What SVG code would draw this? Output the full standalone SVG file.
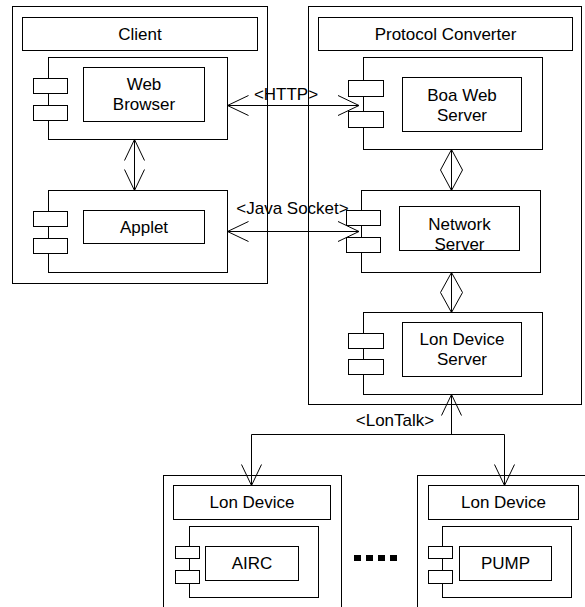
<svg xmlns="http://www.w3.org/2000/svg" width="585" height="607" viewBox="0 0 585 607">
<defs>
<style>
rect{fill:#fff;stroke:#000;stroke-width:1}
.ln{fill:none;stroke:#000;stroke-width:1}
text{font-family:"Liberation Sans",Arial,sans-serif;font-size:17px;fill:#000;text-anchor:middle}
.dot{fill:#000;stroke:none}
</style>
<marker id="open" markerUnits="userSpaceOnUse" markerWidth="26" markerHeight="26" viewBox="-23 -13 26 26" refX="0" refY="0" orient="auto-start-reverse">
<path d="M-21,-10 L0,0 L-21,10" fill="none" stroke="#000" stroke-width="1"/>
</marker>
</defs>
<rect x="0" y="0" width="585" height="607" style="stroke:none"/>

<g id="client">
<rect x="12.5" y="6.5" width="255" height="277"/>
<rect x="22.5" y="17.5" width="235" height="33"/>
<text x="140" y="39.5">Client</text>
</g>
<g id="web-browser">
<rect x="48.5" y="57.5" width="179" height="82"/>
<rect x="33.5" y="78.5" width="34" height="15"/>
<rect x="33.5" y="105.5" width="34" height="15"/>
<rect x="83.5" y="67.5" width="121" height="54"/>
<text x="144" y="90">Web</text>
<text x="144" y="110">Browser</text>
</g>
<g id="applet">
<rect x="48.5" y="190.5" width="179" height="82"/>
<rect x="33.5" y="211.5" width="34" height="15"/>
<rect x="33.5" y="238.5" width="34" height="15"/>
<rect x="83.5" y="210.5" width="121" height="33"/>
<text x="144" y="232.5">Applet</text>
</g>

<g id="protocol-converter">
<rect x="308.5" y="6.5" width="273" height="398"/>
<rect x="318.5" y="17.5" width="254" height="33"/>
<text x="445.5" y="39.5">Protocol Converter</text>
</g>
<g id="boa-web-server">
<rect x="363.5" y="57.5" width="179" height="92"/>
<rect x="348.5" y="80.5" width="35" height="16"/>
<rect x="348.5" y="111.5" width="35" height="16"/>
<rect x="402.5" y="77.5" width="119" height="54"/>
<text x="462" y="101">Boa Web</text>
<text x="462" y="121">Server</text>
</g>
<g id="network-server">
<rect x="361.5" y="190.5" width="179" height="82"/>
<rect x="346.5" y="210.5" width="34" height="15"/>
<rect x="346.5" y="237.5" width="34" height="15"/>
<rect x="399.5" y="206.5" width="120" height="44"/>
<text x="459.5" y="230">Network</text>
<text x="459.5" y="249.5">Server</text>
</g>
<g id="lon-device-server">
<rect x="363.5" y="312.5" width="179" height="82"/>
<rect x="348.5" y="333.5" width="35" height="15"/>
<rect x="348.5" y="359.5" width="35" height="15"/>
<rect x="402.5" y="322.5" width="119" height="54"/>
<text x="462" y="345">Lon Device</text>
<text x="462" y="365">Server</text>
</g>

<g id="lon-device-airc">
<rect x="163.5" y="475.5" width="178" height="150"/>
<rect x="173.5" y="485.5" width="157" height="34"/>
<text x="252" y="508">Lon Device</text>
<rect x="189.5" y="526.5" width="129" height="71"/>
<rect x="175.5" y="546.5" width="24" height="12"/>
<rect x="175.5" y="570.5" width="24" height="13"/>
<rect x="205.5" y="546.5" width="93" height="34"/>
<text x="252" y="569">AIRC</text>
</g>
<g id="lon-device-pump">
<rect x="417.5" y="475.5" width="200" height="150"/>
<rect x="428.5" y="485.5" width="150" height="34"/>
<text x="503.5" y="508">Lon Device</text>
<rect x="442.5" y="526.5" width="129" height="71"/>
<rect x="428.5" y="546.5" width="24" height="12"/>
<rect x="428.5" y="570.5" width="24" height="13"/>
<rect x="459.5" y="546.5" width="92" height="34"/>
<text x="505.5" y="569">PUMP</text>
</g>
<g id="ellipsis">
<rect class="dot" x="354" y="555" width="7" height="6"/>
<rect class="dot" x="366" y="555" width="7" height="6"/>
<rect class="dot" x="378" y="555" width="7" height="6"/>
<rect class="dot" x="390" y="555" width="7" height="6"/>
</g>

<g id="connectors">
<path class="ln" d="M134.5,139.5 L134.5,190.5" marker-start="url(#open)" marker-end="url(#open)"/>
<path class="ln" d="M227.5,105.5 L359,105.5" marker-start="url(#open)" marker-end="url(#open)"/>
<text x="286" y="100">&lt;HTTP&gt;</text>
<path class="ln" d="M227.5,231.5 L359,231.5" marker-start="url(#open)" marker-end="url(#open)"/>
<text x="292.5" y="213.5">&lt;Java Socket&gt;</text>
<path class="ln" d="M451.5,149.5 L462.5,170 L451.5,190.5 L440.5,170 Z M451.5,149.5 L451.5,190.5"/>
<path class="ln" d="M451.5,272.5 L462.5,292.5 L451.5,312.5 L440.5,292.5 Z M451.5,272.5 L451.5,312.5"/>
<path class="ln" d="M451.5,434.5 L451.5,394.5" marker-end="url(#open)"/>
<path class="ln" d="M251.5,485.5 L251.5,434.5 L504.5,434.5 L504.5,485.5" marker-start="url(#open)" marker-end="url(#open)"/>
<text x="395" y="426">&lt;LonTalk&gt;</text>
</g>
</svg>
